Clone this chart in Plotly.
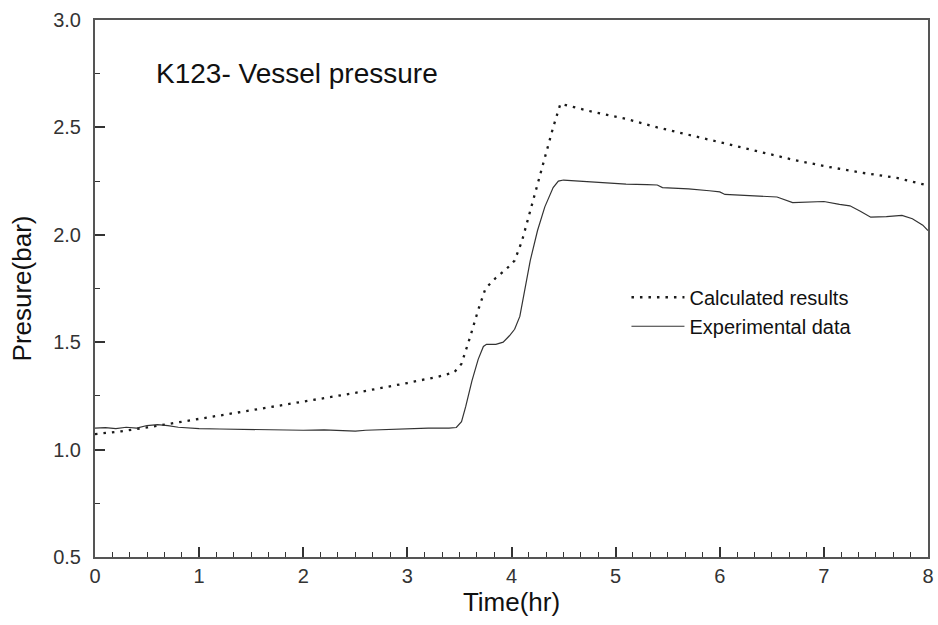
import plotly.graph_objects as go

# Calculated results (dotted)
calc_time = [0.0, 0.25, 0.5, 0.75, 1.0, 1.5, 2.0, 2.5, 3.0, 3.3, 3.45, 3.52, 3.6, 3.68,
             3.75, 3.85, 3.95, 4.03, 4.1, 4.2, 4.3, 4.4, 4.47, 4.8, 5.1, 5.4, 5.75,
             6.1, 6.4, 6.7, 7.0, 7.35, 7.7, 8.0]
calc_pressure = [1.072, 1.085, 1.103, 1.122, 1.143, 1.183, 1.223, 1.264, 1.31, 1.34, 1.36,
                 1.40, 1.52, 1.65, 1.75, 1.80, 1.84, 1.88, 1.97, 2.15, 2.33, 2.50, 2.61,
                 2.57, 2.54, 2.50, 2.46, 2.42, 2.385, 2.35, 2.32, 2.29, 2.265, 2.23]

# Experimental data (solid)
exp_time = [0.00, 0.10, 0.20, 0.30, 0.40, 0.50, 0.60, 0.70, 0.80, 0.90, 1.00, 1.20, 1.40,
            1.60, 1.80, 2.00, 2.20, 2.40, 2.50, 2.60, 2.80, 3.00, 3.20, 3.40, 3.47, 3.52,
            3.56, 3.62, 3.68, 3.73, 3.76, 3.85, 3.92, 3.98, 4.03, 4.08, 4.12, 4.18, 4.25,
            4.32, 4.40, 4.45, 4.50, 4.70, 4.90, 5.10, 5.30, 5.40, 5.45, 5.70, 5.90, 6.00,
            6.05, 6.20, 6.40, 6.55, 6.70, 6.80, 7.00, 7.15, 7.25, 7.35, 7.45, 7.60, 7.75,
            7.85, 7.95, 8.00]
exp_pressure = [1.100, 1.102, 1.098, 1.104, 1.100, 1.112, 1.116, 1.112, 1.104, 1.100, 1.098,
                1.096, 1.094, 1.092, 1.093, 1.090, 1.092, 1.088, 1.086, 1.090, 1.094, 1.098,
                1.100, 1.100, 1.103, 1.13, 1.20, 1.32, 1.42, 1.48, 1.49, 1.49, 1.50, 1.53,
                1.56, 1.62, 1.72, 1.88, 2.02, 2.13, 2.22, 2.25, 2.255, 2.248, 2.240, 2.236,
                2.234, 2.232, 2.220, 2.214, 2.205, 2.200, 2.188, 2.184, 2.180, 2.176, 2.150,
                2.152, 2.155, 2.142, 2.135, 2.110, 2.082, 2.085, 2.090, 2.075, 2.045, 2.020]

title_text = "K123- Vessel pressure"
x_title = "Time(hr)"
y_title = "Presure(bar)"
x_ticks = [0, 1, 2, 3, 4, 5, 6, 7, 8]
y_ticks = [0.5, 1.0, 1.5, 2.0, 2.5, 3.0]

FONT = "Liberation Sans, Arial, sans-serif"

fig = go.Figure()
fig.add_trace(go.Scatter(
    x=calc_time, y=calc_pressure, mode="lines", name="Calculated results",
    line=dict(color="#1a1a1a", width=2.3, dash="2.5px,6px"),
))
fig.add_trace(go.Scatter(
    x=exp_time, y=exp_pressure, mode="lines", name="Experimental data",
    line=dict(color="#333333", width=1.2),
))

axis_common = dict(
    showline=True, linecolor="#555555", linewidth=2, mirror=True,
    showgrid=False, zeroline=False, automargin=False,
    ticks="inside", ticklen=10, tickwidth=1.5, tickcolor="#333333",
    tickfont=dict(family=FONT, size=20, color="#333333"),
)

fig.update_xaxes(
    range=[0, 8], tickvals=x_ticks, ticktext=[str(v) for v in x_ticks],
    title=dict(text=x_title, font=dict(family=FONT, size=26, color="#111111"), standoff=4),
    minor=dict(dtick=1/6, tick0=0, ticks="inside", ticklen=5, tickwidth=1.2, tickcolor="#333333"),
    **axis_common,
)
fig.update_yaxes(
    range=[0.5, 3.0], tickvals=y_ticks, ticktext=[f"{v:.1f}" for v in y_ticks],
    title=dict(text=y_title, font=dict(family=FONT, size=26, color="#111111"), standoff=14),
    minor=dict(dtick=0.25, tick0=0.5, ticks="inside", ticklen=5, tickwidth=1.2, tickcolor="#333333"),
    ticklabelstandoff=8,
    **axis_common,
)

fig.add_annotation(
    text=title_text, xref="paper", yref="paper", x=0.071, y=0.9,
    xanchor="left", yanchor="middle", showarrow=False,
    font=dict(family=FONT, size=28, color="#111111"),
)

fig.update_layout(
    width=938, height=625,
    margin=dict(l=95, r=10, t=20, b=68, autoexpand=False),
    paper_bgcolor="white", plot_bgcolor="white",
    font=dict(family=FONT, color="#111111"),
    legend=dict(
        x=0.638, y=0.52, xanchor="left", yanchor="top",
        bgcolor="rgba(0,0,0,0)", borderwidth=0,
        font=dict(family=FONT, size=20, color="#111111"),
        itemwidth=53, tracegroupgap=0,
    ),
    showlegend=True,
)

fig.write_html("out.html")
